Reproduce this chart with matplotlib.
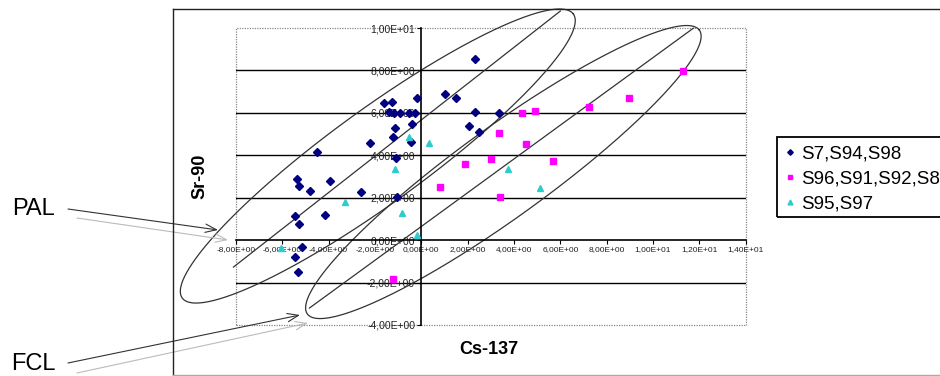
import numpy as np
import matplotlib
matplotlib.use("Agg")
import matplotlib.pyplot as plt
from matplotlib.patches import Rectangle
from matplotlib.lines import Line2D
from matplotlib.ticker import FuncFormatter

plt.rcParams['font.family'] = ['Liberation Sans', 'DejaVu Sans']

# ---------------- data ----------------
s7_x = [2.33, 1.04, 1.51, -0.19, -1.63, -1.26, -1.41, -1.20, -0.91, -0.55, -0.26,
        -0.40, -1.15, -1.22, -2.20, -0.43, -4.50, -1.08, 2.04, -5.36, -5.27, -3.96,
        -4.79, -2.60, -5.47, -5.27, -4.14, -5.15, -5.47, -5.32, -1.05, 2.33, 3.37, 2.47]
s7_y = [8.52, 6.87, 6.71, 6.71, 6.45, 6.53, 6.05, 5.98, 5.98, 5.98, 5.98,
        5.46, 5.27, 4.85, 4.56, 4.61, 4.14, 3.86, 5.39, 2.87, 2.55, 2.80,
        2.33, 2.25, 1.14, 0.74, 1.20, -0.31, -0.78, -1.49, 2.05, 6.03, 6.01, 5.11]

s96_x = [11.28, 8.95, 7.25, 4.34, 4.92, 3.34, 4.51, 3.02, 1.90, 5.67, 0.82, 3.41, -1.22]
s96_y = [7.97, 6.69, 6.28, 5.98, 6.07, 5.05, 4.53, 3.84, 3.57, 3.74, 2.49, 2.02, -1.85]

s95_x = [-0.55, 0.32, -1.12, 3.72, 5.14, -0.82, -0.19, -3.28, -6.04]
s95_y = [4.88, 4.60, 3.34, 3.34, 2.48, 1.26, 0.24, 1.81, -0.35]

series_labels = ["S7,S94,S98", "S96,S91,S92,S8", "S95,S97"]
x_ticks = list(range(-8, 15, 2))
y_ticks = list(range(-4, 11, 2))

# ---------------- figure ----------------
W, H = 940, 376
fig = plt.figure(figsize=(W / 100, H / 100), dpi=100)

def fx(px):
    return px / W

def fy(py):
    return 1 - py / H

# outer chart area border
fig.add_artist(Line2D([fx(172.5), fx(172.5)], [fy(9), fy(375)], color='#222222', lw=1.0))
fig.add_artist(Line2D([fx(172.5), 1.0], [fy(9), fy(9)], color='#222222', lw=1.0))
fig.add_artist(Line2D([fx(172.5), 1.0], [fy(375), fy(375)], color='#aaaaaa', lw=1.0))

ax = fig.add_axes([fx(236), fy(325), (745.7 - 236) / W, (325 - 28) / H])
ax.set_xlim(-8, 14)
ax.set_ylim(-4, 10)
ax.set_xticks(x_ticks)
ax.set_yticks(y_ticks)
fmt = FuncFormatter(lambda v, p: f"{v:.2E}".replace('.', ','))
ax.xaxis.set_major_formatter(fmt)
ax.yaxis.set_major_formatter(fmt)
ax.spines['left'].set_position(('data', 0))
ax.spines['bottom'].set_position(('data', 0))
ax.spines['right'].set_visible(False)
ax.spines['top'].set_visible(False)
for s in ('left', 'bottom'):
    ax.spines[s].set_linewidth(1.2)
    ax.spines[s].set_color('black')
ax.tick_params(axis='both', direction='out', length=3, width=0.8,
               labelcolor='#222222', pad=1.5)
ax.tick_params(axis='x', labelsize=6)
ax.tick_params(axis='y', labelsize=7.5)
ax.patch.set_visible(False)

ax.add_patch(Rectangle((0, 0), 1, 1, transform=ax.transAxes, fill=False,
                       ls=(0, (1, 1)), ec='#888888', lw=0.9, clip_on=False, zorder=0.5))
for yv in y_ticks:
    if yv not in (y_ticks[0], y_ticks[-1], 0):
        ax.axhline(yv, color='black', lw=1.0, zorder=1)

# data points
ax.plot(s7_x, s7_y, ls='none', marker='D', ms=4.0, color='#000080', zorder=3,
        label=series_labels[0])
ax.plot(s96_x, s96_y, ls='none', marker='s', ms=4.6, color='#FF00FF', zorder=3,
        label=series_labels[1])
ax.plot(s95_x, s95_y, ls='none', marker='^', ms=5.0, color='#2ECCCC', zorder=3,
        label=series_labels[2])

# ellipses (annotation shapes) defined by their tips in data units
def ellipse(p1, p2, b_px, **kw):
    d1 = ax.transData.transform(p1)
    d2 = ax.transData.transform(p2)
    c = (d1 + d2) / 2
    v = d2 - d1
    a = np.hypot(*v) / 2
    u = v / np.hypot(*v)
    n = np.array([-u[1], u[0]])
    t = np.linspace(0, 2 * np.pi, 500)
    pts = c + a * np.cos(t)[:, None] * u + b_px * np.sin(t)[:, None] * n
    dpts = ax.transData.inverted().transform(pts)
    ax.plot(dpts[:, 0], dpts[:, 1], clip_on=False, **kw)

lk = dict(color='#333333', lw=0.9, zorder=2)
ellipse((-10.32, -2.73), (6.56, 10.66), 47, **lk)
ellipse((-4.92, -3.48), (12.0, 9.90), 45, **lk)
ax.plot([-8.11, 6.00], [-1.27, 10.80], clip_on=False, **lk)
ax.plot([-4.83, 11.74], [-3.20, 9.99], clip_on=False, **lk)

# axis titles
fig.text(fx(489), fy(350), "Cs-137", ha='center', va='center', fontsize=13,
         fontweight='bold')
fig.text(fx(200), fy(176), "Sr-90", ha='center', va='center', fontsize=13,
         fontweight='bold', rotation=90)

# PAL / FCL annotations
fig.text(fx(34), fy(209), "PAL", ha='center', va='center', fontsize=17)
fig.text(fx(33), fy(364), "FCL", ha='center', va='center', fontsize=17)

def arrow(x0, y0, x1, y1, col):
    ax.annotate('', xy=(x1, H - y1), xytext=(x0, H - y0),
                xycoords='figure pixels', textcoords='figure pixels',
                annotation_clip=False,
                arrowprops=dict(arrowstyle='->,head_length=0.8,head_width=0.3',
                                color=col, lw=0.8, shrinkA=0, shrinkB=0))

arrow(68, 209, 218, 230, '#333333')
arrow(77, 218, 228, 240, '#bbbbbb')
arrow(68, 363, 300, 315, '#333333')
arrow(77, 373, 308, 323, '#bbbbbb')

# legend
leg = ax.legend(loc='upper left', bbox_to_anchor=(fx(784.0), fy(145)),
                bbox_transform=fig.transFigure, frameon=False, fontsize=13.5,
                handlelength=0.6, handletextpad=0.3, borderpad=0, borderaxespad=0,
                labelspacing=0.42, numpoints=1, markerscale=0.7)
fig.add_artist(Rectangle((fx(777), fy(217)), (960 - 777) / W, 80 / H,
                         transform=fig.transFigure, fill=False, ec='black', lw=1.3))

fig.savefig('out.png', dpi=100)
